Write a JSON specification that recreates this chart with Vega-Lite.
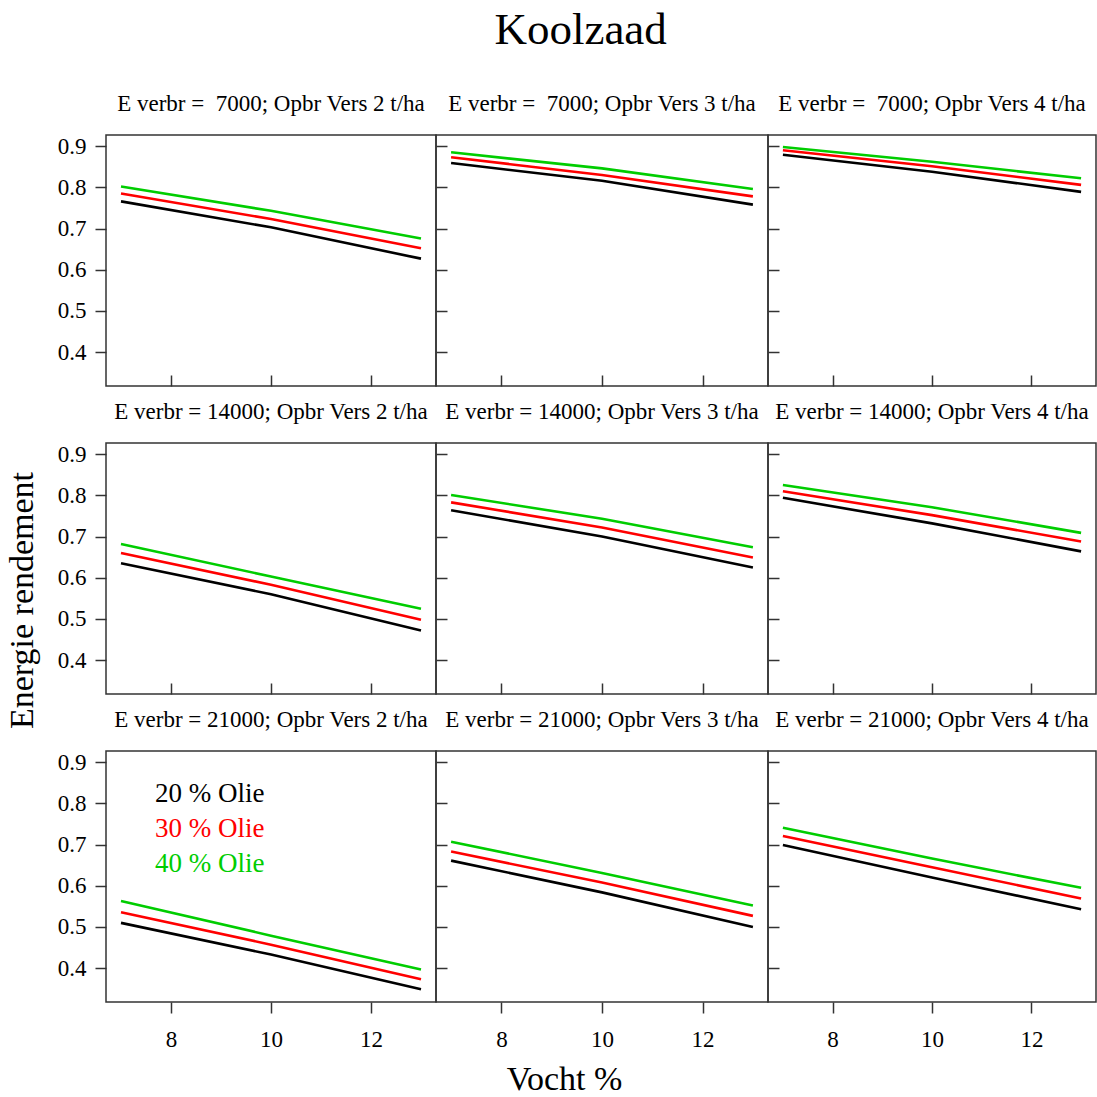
{
  "$schema": "https://vega.github.io/schema/vega-lite/v6.json",
  "padding": {"left": 4, "top": 8, "right": 0, "bottom": 0},
  "background": "white",
  "title": {"text": "Koolzaad", "fontSize": 45, "anchor": "middle", "offset": 3, "dx": 30, "baseline": "alphabetic"},
  "data": {"values": [
    {"E": 7000, "O": 2, "olie": "20 % Olie", "vocht": 7, "rend": 0.766},
    {"E": 7000, "O": 2, "olie": "20 % Olie", "vocht": 10, "rend": 0.703},
    {"E": 7000, "O": 2, "olie": "20 % Olie", "vocht": 13, "rend": 0.627},
    {"E": 7000, "O": 2, "olie": "30 % Olie", "vocht": 7, "rend": 0.785},
    {"E": 7000, "O": 2, "olie": "30 % Olie", "vocht": 10, "rend": 0.723},
    {"E": 7000, "O": 2, "olie": "30 % Olie", "vocht": 13, "rend": 0.652},
    {"E": 7000, "O": 2, "olie": "40 % Olie", "vocht": 7, "rend": 0.802},
    {"E": 7000, "O": 2, "olie": "40 % Olie", "vocht": 10, "rend": 0.743},
    {"E": 7000, "O": 2, "olie": "40 % Olie", "vocht": 13, "rend": 0.676},
    {"E": 7000, "O": 3, "olie": "20 % Olie", "vocht": 7, "rend": 0.859},
    {"E": 7000, "O": 3, "olie": "20 % Olie", "vocht": 10, "rend": 0.816},
    {"E": 7000, "O": 3, "olie": "20 % Olie", "vocht": 13, "rend": 0.758},
    {"E": 7000, "O": 3, "olie": "30 % Olie", "vocht": 7, "rend": 0.873},
    {"E": 7000, "O": 3, "olie": "30 % Olie", "vocht": 10, "rend": 0.830},
    {"E": 7000, "O": 3, "olie": "30 % Olie", "vocht": 13, "rend": 0.778},
    {"E": 7000, "O": 3, "olie": "40 % Olie", "vocht": 7, "rend": 0.885},
    {"E": 7000, "O": 3, "olie": "40 % Olie", "vocht": 10, "rend": 0.846},
    {"E": 7000, "O": 3, "olie": "40 % Olie", "vocht": 13, "rend": 0.796},
    {"E": 7000, "O": 4, "olie": "20 % Olie", "vocht": 7, "rend": 0.879},
    {"E": 7000, "O": 4, "olie": "20 % Olie", "vocht": 10, "rend": 0.838},
    {"E": 7000, "O": 4, "olie": "20 % Olie", "vocht": 13, "rend": 0.789},
    {"E": 7000, "O": 4, "olie": "30 % Olie", "vocht": 7, "rend": 0.890},
    {"E": 7000, "O": 4, "olie": "30 % Olie", "vocht": 10, "rend": 0.851},
    {"E": 7000, "O": 4, "olie": "30 % Olie", "vocht": 13, "rend": 0.806},
    {"E": 7000, "O": 4, "olie": "40 % Olie", "vocht": 7, "rend": 0.898},
    {"E": 7000, "O": 4, "olie": "40 % Olie", "vocht": 10, "rend": 0.862},
    {"E": 7000, "O": 4, "olie": "40 % Olie", "vocht": 13, "rend": 0.822},
    {"E": 14000, "O": 2, "olie": "20 % Olie", "vocht": 7, "rend": 0.635},
    {"E": 14000, "O": 2, "olie": "20 % Olie", "vocht": 10, "rend": 0.560},
    {"E": 14000, "O": 2, "olie": "20 % Olie", "vocht": 13, "rend": 0.472},
    {"E": 14000, "O": 2, "olie": "30 % Olie", "vocht": 7, "rend": 0.660},
    {"E": 14000, "O": 2, "olie": "30 % Olie", "vocht": 10, "rend": 0.583},
    {"E": 14000, "O": 2, "olie": "30 % Olie", "vocht": 13, "rend": 0.498},
    {"E": 14000, "O": 2, "olie": "40 % Olie", "vocht": 7, "rend": 0.682},
    {"E": 14000, "O": 2, "olie": "40 % Olie", "vocht": 10, "rend": 0.603},
    {"E": 14000, "O": 2, "olie": "40 % Olie", "vocht": 13, "rend": 0.525},
    {"E": 14000, "O": 3, "olie": "20 % Olie", "vocht": 7, "rend": 0.764},
    {"E": 14000, "O": 3, "olie": "20 % Olie", "vocht": 10, "rend": 0.700},
    {"E": 14000, "O": 3, "olie": "20 % Olie", "vocht": 13, "rend": 0.625},
    {"E": 14000, "O": 3, "olie": "30 % Olie", "vocht": 7, "rend": 0.783},
    {"E": 14000, "O": 3, "olie": "30 % Olie", "vocht": 10, "rend": 0.722},
    {"E": 14000, "O": 3, "olie": "30 % Olie", "vocht": 13, "rend": 0.649},
    {"E": 14000, "O": 3, "olie": "40 % Olie", "vocht": 7, "rend": 0.801},
    {"E": 14000, "O": 3, "olie": "40 % Olie", "vocht": 10, "rend": 0.743},
    {"E": 14000, "O": 3, "olie": "40 % Olie", "vocht": 13, "rend": 0.674},
    {"E": 14000, "O": 4, "olie": "20 % Olie", "vocht": 7, "rend": 0.794},
    {"E": 14000, "O": 4, "olie": "20 % Olie", "vocht": 10, "rend": 0.732},
    {"E": 14000, "O": 4, "olie": "20 % Olie", "vocht": 13, "rend": 0.664},
    {"E": 14000, "O": 4, "olie": "30 % Olie", "vocht": 7, "rend": 0.810},
    {"E": 14000, "O": 4, "olie": "30 % Olie", "vocht": 10, "rend": 0.752},
    {"E": 14000, "O": 4, "olie": "30 % Olie", "vocht": 13, "rend": 0.688},
    {"E": 14000, "O": 4, "olie": "40 % Olie", "vocht": 7, "rend": 0.825},
    {"E": 14000, "O": 4, "olie": "40 % Olie", "vocht": 10, "rend": 0.771},
    {"E": 14000, "O": 4, "olie": "40 % Olie", "vocht": 13, "rend": 0.709},
    {"E": 21000, "O": 2, "olie": "20 % Olie", "vocht": 7, "rend": 0.510},
    {"E": 21000, "O": 2, "olie": "20 % Olie", "vocht": 10, "rend": 0.433},
    {"E": 21000, "O": 2, "olie": "20 % Olie", "vocht": 13, "rend": 0.349},
    {"E": 21000, "O": 2, "olie": "30 % Olie", "vocht": 7, "rend": 0.536},
    {"E": 21000, "O": 2, "olie": "30 % Olie", "vocht": 10, "rend": 0.457},
    {"E": 21000, "O": 2, "olie": "30 % Olie", "vocht": 13, "rend": 0.373},
    {"E": 21000, "O": 2, "olie": "40 % Olie", "vocht": 7, "rend": 0.563},
    {"E": 21000, "O": 2, "olie": "40 % Olie", "vocht": 10, "rend": 0.479},
    {"E": 21000, "O": 2, "olie": "40 % Olie", "vocht": 13, "rend": 0.397},
    {"E": 21000, "O": 3, "olie": "20 % Olie", "vocht": 7, "rend": 0.661},
    {"E": 21000, "O": 3, "olie": "20 % Olie", "vocht": 10, "rend": 0.584},
    {"E": 21000, "O": 3, "olie": "20 % Olie", "vocht": 13, "rend": 0.500},
    {"E": 21000, "O": 3, "olie": "30 % Olie", "vocht": 7, "rend": 0.683},
    {"E": 21000, "O": 3, "olie": "30 % Olie", "vocht": 10, "rend": 0.608},
    {"E": 21000, "O": 3, "olie": "30 % Olie", "vocht": 13, "rend": 0.527},
    {"E": 21000, "O": 3, "olie": "40 % Olie", "vocht": 7, "rend": 0.707},
    {"E": 21000, "O": 3, "olie": "40 % Olie", "vocht": 10, "rend": 0.631},
    {"E": 21000, "O": 3, "olie": "40 % Olie", "vocht": 13, "rend": 0.552},
    {"E": 21000, "O": 4, "olie": "20 % Olie", "vocht": 7, "rend": 0.699},
    {"E": 21000, "O": 4, "olie": "20 % Olie", "vocht": 10, "rend": 0.620},
    {"E": 21000, "O": 4, "olie": "20 % Olie", "vocht": 13, "rend": 0.543},
    {"E": 21000, "O": 4, "olie": "30 % Olie", "vocht": 7, "rend": 0.721},
    {"E": 21000, "O": 4, "olie": "30 % Olie", "vocht": 10, "rend": 0.645},
    {"E": 21000, "O": 4, "olie": "30 % Olie", "vocht": 13, "rend": 0.569},
    {"E": 21000, "O": 4, "olie": "40 % Olie", "vocht": 7, "rend": 0.741},
    {"E": 21000, "O": 4, "olie": "40 % Olie", "vocht": 10, "rend": 0.666},
    {"E": 21000, "O": 4, "olie": "40 % Olie", "vocht": 13, "rend": 0.595}
  ]},
  "columns": 3,
  "spacing": {"row": 57, "column": 0},
  "bounds": "flush",
  "resolve": {"scale": {"color": "independent"}, "legend": {"color": "independent"}},
  "concat": [
    {"title": "E verbr = \u00a07000; Opbr Vers 2 t/ha", "width": 330, "height": 251,
     "transform": [{"filter": "datum.E == 7000 && datum.O == 2"}],
     "mark": {"type": "line", "strokeWidth": 2.6},
     "encoding": {
       "x": {"field": "vocht", "type": "quantitative", "scale": {"domain": [6.7, 13.3], "nice": false, "zero": false}, "axis": {"values": [8, 10, 12], "labels": false, "tickSize": -11, "title": null}},
       "y": {"field": "rend", "type": "quantitative", "scale": {"domain": [0.318, 0.927], "nice": false, "zero": false}, "axis": {"values": [0.4, 0.5, 0.6, 0.7, 0.8, 0.9], "format": ".1f", "tickSize": 11, "labelPadding": 9, "title": null}},
       "color": {"field": "olie", "type": "nominal", "scale": {"domain": ["20 % Olie", "30 % Olie", "40 % Olie"], "range": ["#000000", "#ff0000", "#00cd00"]}, "legend": null}
     }},
    {"title": "E verbr = \u00a07000; Opbr Vers 3 t/ha", "width": 332, "height": 251,
     "transform": [{"filter": "datum.E == 7000 && datum.O == 3"}],
     "mark": {"type": "line", "strokeWidth": 2.6},
     "encoding": {
       "x": {"field": "vocht", "type": "quantitative", "scale": {"domain": [6.7, 13.3], "nice": false, "zero": false}, "axis": {"values": [8, 10, 12], "labels": false, "tickSize": -11, "title": null}},
       "y": {"field": "rend", "type": "quantitative", "scale": {"domain": [0.318, 0.927], "nice": false, "zero": false}, "axis": {"values": [0.4, 0.5, 0.6, 0.7, 0.8, 0.9], "labels": false, "tickSize": -11, "title": null}},
       "color": {"field": "olie", "type": "nominal", "scale": {"domain": ["20 % Olie", "30 % Olie", "40 % Olie"], "range": ["#000000", "#ff0000", "#00cd00"]}, "legend": null}
     }},
    {"title": "E verbr = \u00a07000; Opbr Vers 4 t/ha", "width": 328, "height": 251,
     "transform": [{"filter": "datum.E == 7000 && datum.O == 4"}],
     "mark": {"type": "line", "strokeWidth": 2.6},
     "encoding": {
       "x": {"field": "vocht", "type": "quantitative", "scale": {"domain": [6.7, 13.3], "nice": false, "zero": false}, "axis": {"values": [8, 10, 12], "labels": false, "tickSize": -11, "title": null}},
       "y": {"field": "rend", "type": "quantitative", "scale": {"domain": [0.318, 0.927], "nice": false, "zero": false}, "axis": {"values": [0.4, 0.5, 0.6, 0.7, 0.8, 0.9], "labels": false, "tickSize": -11, "title": null}},
       "color": {"field": "olie", "type": "nominal", "scale": {"domain": ["20 % Olie", "30 % Olie", "40 % Olie"], "range": ["#000000", "#ff0000", "#00cd00"]}, "legend": null}
     }},
    {"title": "E verbr = 14000; Opbr Vers 2 t/ha", "width": 330, "height": 251,
     "transform": [{"filter": "datum.E == 14000 && datum.O == 2"}],
     "mark": {"type": "line", "strokeWidth": 2.6},
     "encoding": {
       "x": {"field": "vocht", "type": "quantitative", "scale": {"domain": [6.7, 13.3], "nice": false, "zero": false}, "axis": {"values": [8, 10, 12], "labels": false, "tickSize": -11, "title": null}},
       "y": {"field": "rend", "type": "quantitative", "scale": {"domain": [0.318, 0.927], "nice": false, "zero": false}, "axis": {"values": [0.4, 0.5, 0.6, 0.7, 0.8, 0.9], "format": ".1f", "tickSize": 11, "labelPadding": 9, "title": "Energie rendement", "titleY": 157, "titlePadding": 18}},
       "color": {"field": "olie", "type": "nominal", "scale": {"domain": ["20 % Olie", "30 % Olie", "40 % Olie"], "range": ["#000000", "#ff0000", "#00cd00"]}, "legend": null}
     }},
    {"title": "E verbr = 14000; Opbr Vers 3 t/ha", "width": 332, "height": 251,
     "transform": [{"filter": "datum.E == 14000 && datum.O == 3"}],
     "mark": {"type": "line", "strokeWidth": 2.6},
     "encoding": {
       "x": {"field": "vocht", "type": "quantitative", "scale": {"domain": [6.7, 13.3], "nice": false, "zero": false}, "axis": {"values": [8, 10, 12], "labels": false, "tickSize": -11, "title": null}},
       "y": {"field": "rend", "type": "quantitative", "scale": {"domain": [0.318, 0.927], "nice": false, "zero": false}, "axis": {"values": [0.4, 0.5, 0.6, 0.7, 0.8, 0.9], "labels": false, "tickSize": -11, "title": null}},
       "color": {"field": "olie", "type": "nominal", "scale": {"domain": ["20 % Olie", "30 % Olie", "40 % Olie"], "range": ["#000000", "#ff0000", "#00cd00"]}, "legend": null}
     }},
    {"title": "E verbr = 14000; Opbr Vers 4 t/ha", "width": 328, "height": 251,
     "transform": [{"filter": "datum.E == 14000 && datum.O == 4"}],
     "mark": {"type": "line", "strokeWidth": 2.6},
     "encoding": {
       "x": {"field": "vocht", "type": "quantitative", "scale": {"domain": [6.7, 13.3], "nice": false, "zero": false}, "axis": {"values": [8, 10, 12], "labels": false, "tickSize": -11, "title": null}},
       "y": {"field": "rend", "type": "quantitative", "scale": {"domain": [0.318, 0.927], "nice": false, "zero": false}, "axis": {"values": [0.4, 0.5, 0.6, 0.7, 0.8, 0.9], "labels": false, "tickSize": -11, "title": null}},
       "color": {"field": "olie", "type": "nominal", "scale": {"domain": ["20 % Olie", "30 % Olie", "40 % Olie"], "range": ["#000000", "#ff0000", "#00cd00"]}, "legend": null}
     }},
    {"title": "E verbr = 21000; Opbr Vers 2 t/ha", "width": 330, "height": 251,
     "transform": [{"filter": "datum.E == 21000 && datum.O == 2"}],
     "mark": {"type": "line", "strokeWidth": 2.6},
     "encoding": {
       "x": {"field": "vocht", "type": "quantitative", "scale": {"domain": [6.7, 13.3], "nice": false, "zero": false}, "axis": {"values": [8, 10, 12], "tickSize": 11, "labelPadding": 15, "title": null}},
       "y": {"field": "rend", "type": "quantitative", "scale": {"domain": [0.318, 0.927], "nice": false, "zero": false}, "axis": {"values": [0.4, 0.5, 0.6, 0.7, 0.8, 0.9], "format": ".1f", "tickSize": 11, "labelPadding": 9, "title": null}},
       "color": {"field": "olie", "type": "nominal", "scale": {"domain": ["20 % Olie", "30 % Olie", "40 % Olie"], "range": ["#000000", "#ff0000", "#00cd00"]},
         "legend": {"orient": "none", "legendX": 22, "legendY": 29, "title": null, "symbolSize": 0, "symbolOpacity": 0, "symbolStrokeWidth": 0, "labelOffset": 0, "padding": 0, "labelFontSize": 27, "labelFont": "Liberation Serif", "rowPadding": 7,
           "encode": {"labels": {"update": {"fill": {"signal": "datum.value === '20 % Olie' ? '#000000' : datum.value === '30 % Olie' ? '#ff0000' : '#00cd00'"}}}}}}
     }},
    {"title": "E verbr = 21000; Opbr Vers 3 t/ha", "width": 332, "height": 251,
     "transform": [{"filter": "datum.E == 21000 && datum.O == 3"}],
     "mark": {"type": "line", "strokeWidth": 2.6},
     "encoding": {
       "x": {"field": "vocht", "type": "quantitative", "scale": {"domain": [6.7, 13.3], "nice": false, "zero": false}, "axis": {"values": [8, 10, 12], "tickSize": 11, "labelPadding": 15, "title": "Vocht %", "titleX": 128, "titlePadding": 11}},
       "y": {"field": "rend", "type": "quantitative", "scale": {"domain": [0.318, 0.927], "nice": false, "zero": false}, "axis": {"values": [0.4, 0.5, 0.6, 0.7, 0.8, 0.9], "labels": false, "tickSize": -11, "title": null}},
       "color": {"field": "olie", "type": "nominal", "scale": {"domain": ["20 % Olie", "30 % Olie", "40 % Olie"], "range": ["#000000", "#ff0000", "#00cd00"]}, "legend": null}
     }},
    {"title": "E verbr = 21000; Opbr Vers 4 t/ha", "width": 328, "height": 251,
     "transform": [{"filter": "datum.E == 21000 && datum.O == 4"}],
     "mark": {"type": "line", "strokeWidth": 2.6},
     "encoding": {
       "x": {"field": "vocht", "type": "quantitative", "scale": {"domain": [6.7, 13.3], "nice": false, "zero": false}, "axis": {"values": [8, 10, 12], "tickSize": 11, "labelPadding": 15, "title": null}},
       "y": {"field": "rend", "type": "quantitative", "scale": {"domain": [0.318, 0.927], "nice": false, "zero": false}, "axis": {"values": [0.4, 0.5, 0.6, 0.7, 0.8, 0.9], "labels": false, "tickSize": -11, "title": null}},
       "color": {"field": "olie", "type": "nominal", "scale": {"domain": ["20 % Olie", "30 % Olie", "40 % Olie"], "range": ["#000000", "#ff0000", "#00cd00"]}, "legend": null}
     }}
  ],
  "config": {
    "font": "Liberation Serif",
    "view": {"stroke": "#333333", "strokeWidth": 1.5},
    "axis": {"domain": false, "grid": false, "tickColor": "#333333", "tickWidth": 1.5, "labelColor": "black", "labelFontSize": 23, "labelFont": "Liberation Serif", "titleFont": "Liberation Serif", "titleFontSize": 34, "titleFontWeight": "normal", "titleColor": "black", "labelFlush": false, "labelOverlap": false, "minExtent": 0},
    "title": {"font": "Liberation Serif", "fontSize": 23, "fontWeight": "normal", "color": "black", "offset": 19, "baseline": "alphabetic"},
    "line": {"strokeCap": "butt"}
  }
}
